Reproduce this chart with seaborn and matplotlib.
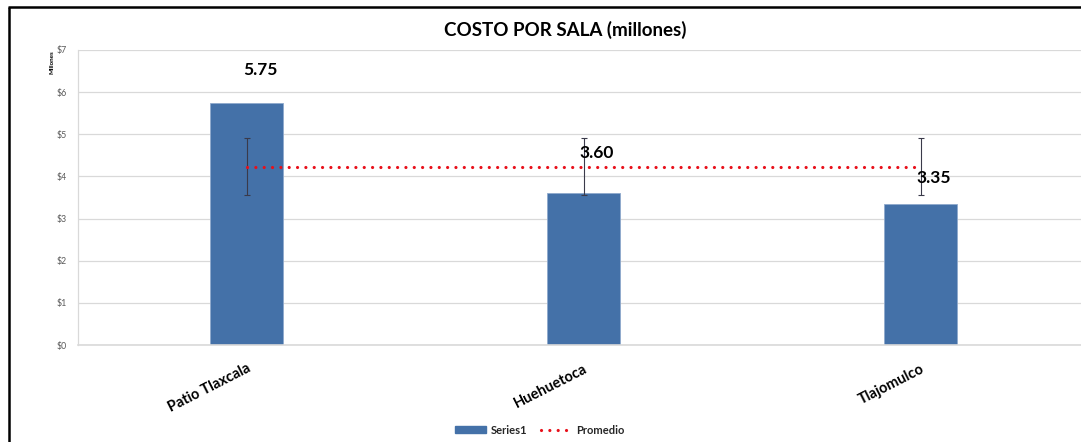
import matplotlib
matplotlib.use("Agg")
import matplotlib.pyplot as plt
import seaborn as sns
import pandas as pd
import numpy as np
from matplotlib.lines import Line2D
from matplotlib.patches import Patch

categories = ["Patio Tlaxcala", "Huehuetoca", "Tlajomulco"]
costs = [5.75, 3.60, 3.35]
average = [4.233, 4.233, 4.233]
average_err = [0.67, 0.67, 0.67]
value_labels = ["5.75", "3.60", "3.35"]
label_heights = [6.53, 4.56, 3.96]
y_ticks = [0, 1, 2, 3, 4, 5, 6, 7]
y_tick_labels = ["$0", "$1", "$2", "$3", "$4", "$5", "$6", "$7"]

sns.set_theme(style="white")
plt.rcParams['font.family'] = ['Lato', 'DejaVu Sans']

W, H = 1081, 442
fig = plt.figure(figsize=(W / 100, H / 100), dpi=100)
ax = fig.add_axes([78 / W, (H - 345) / H, 1011 / W, 295 / H])

df = pd.DataFrame({"cat": categories, "cost": costs})
bar_color = "#4471A8"
sns.barplot(data=df, x="cat", y="cost", color=bar_color, width=0.214,
            saturation=1, ax=ax, zorder=2)
for p in ax.patches:
    p.set_edgecolor("#8FA9CC")
    p.set_linewidth(0.6)

x = np.arange(len(categories))
ax.errorbar(x, average, yerr=average_err, fmt="none", ecolor="#3A3A4A",
            elinewidth=0.8, capsize=2.5, capthick=0.8, zorder=3)
ax.plot(x, average, color="#E8101A", linestyle=(0, (0.01, 2.6)),
        linewidth=2.3, dash_capstyle="round", zorder=4)

for xi, lab, h in zip(x, value_labels, label_heights):
    ax.text(xi + 0.04, h, lab, ha="center", va="center", fontsize=12.5,
            fontweight="bold", color="black", zorder=5)

ax.set_xlim(-0.5, 2.5)
ax.set_ylim(0, 7)
ax.set_yticks(y_ticks)
ax.set_yticklabels(y_tick_labels, fontsize=6.3, color="#595959")
ax.yaxis.grid(True, color="#D9D9D9", linewidth=0.9, zorder=0)
ax.set_axisbelow(True)
ax.tick_params(axis="y", length=0, pad=8)
ax.tick_params(axis="x", length=0, pad=12)
ax.set_xticks(x)
ax.set_xticklabels(categories, rotation=27, ha="right", rotation_mode="anchor",
                   fontsize=10.5, fontweight="bold", color="black")
ax.set_xlabel("")
ax.set_ylabel("")
for s in ["top", "right"]:
    ax.spines[s].set_visible(False)
ax.spines["left"].set_color("#D9D9D9")
ax.spines["left"].set_linewidth(0.9)
ax.spines["bottom"].set_color("#D9D9D9")
ax.spines["bottom"].set_linewidth(1.2)

fig.text(52 / W, 1 - 62 / H, "Millones", rotation=90, ha="center", va="center",
         fontsize=4.5, fontweight="bold", color="black")
fig.text(565 / W, 1 - 30 / H, "COSTO POR SALA (millones)", ha="center", va="center",
         fontsize=13.5, fontweight="bold", color="black")

handles = [Patch(facecolor=bar_color, edgecolor=bar_color),
           Line2D([0], [0], color="#E8101A", linestyle=(0, (0.01, 2.6)),
                  linewidth=2.3, dash_capstyle="round")]
fig.legend(handles, ["Series1", "Promedio"], loc="center",
           bbox_to_anchor=(540 / W, 12 / H), ncol=2, frameon=False,
           prop={"size": 8, "weight": "bold"}, handlelength=2.8,
           handleheight=0.5, columnspacing=1.2, handletextpad=0.4)

# outer chart frame (left and top edges visible)
fig.add_artist(Line2D([8.5 / W, 8.5 / W], [-0.01, 1 - 7 / H], transform=fig.transFigure,
                      color="black", linewidth=1.8, solid_capstyle="butt"))
fig.add_artist(Line2D([7.6 / W, 1.01], [1 - 7 / H, 1 - 7 / H], transform=fig.transFigure,
                      color="black", linewidth=1.8, solid_capstyle="butt"))

fig.savefig("out.png", dpi=100)
